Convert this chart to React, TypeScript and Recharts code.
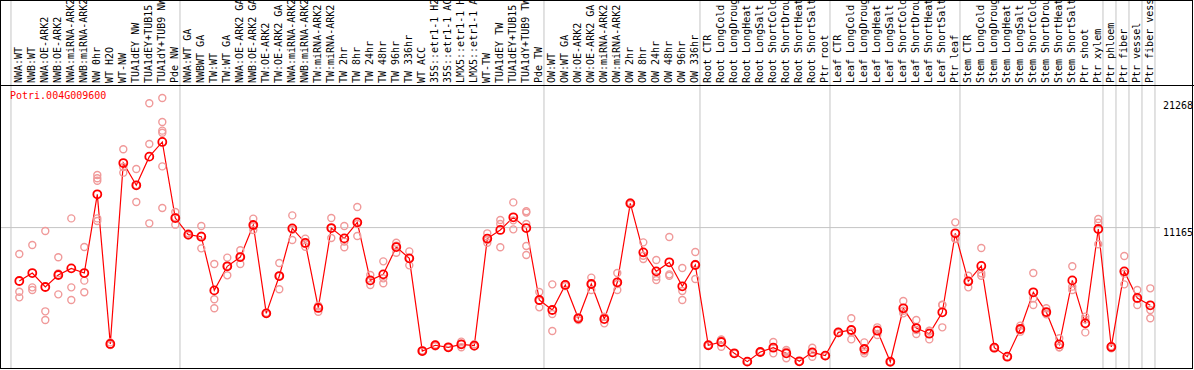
import React from "react";
import { ComposedChart, Line, Scatter, XAxis, YAxis, ReferenceLine } from "recharts";

const categories = [
  "NWA:WT", "NWB:WT", "NWA:OE-ARK2", "NWB:OE-ARK2", "NWA:miRNA-ARK2", "NWB:miRNA-ARK2",
  "NW 0hr", "WT H2O", "WT-NW", "TUA1dEY NW", "TUA1dEY+TUB15 NW", "TUA1dY+TUB9 NW", "Pde NW",
  "NWA:WT GA", "NWBWT GA", "TW:WT", "TW:WT GA", "NWA:OE-ARK2 GA", "NWB:OE-ARK2 GA",
  "TW:OE-ARK2", "TW:OE-ARK2 GA", "NWA:miRNA-ARK2", "NWB:miRNA-ARK2", "TW:miRNA-ARK2",
  "TW:miRNA-ARK2", "TW 2hr", "TW 8hr", "TW 24hr", "TW 48hr", "TW 96hr", "TW 336hr",
  "WT ACC", "35S::etr1-1 H2O", "35S::etr1-1 ACC", "LMX5::etr1-1 H2O", "LMX5::etr1-1 ACC",
  "WT-TW", "TUA1dEY TW", "TUA1dEY+TUB15 TW", "TUA1dY+TUB9 TW", "Pde TW",
  "OW:WT", "OW:WT GA", "OW:OE-ARK2", "OW:OE-ARK2 GA", "OW:miRNA-ARK2", "OW:miRNA-ARK2",
  "OW 2hr", "OW 8hr", "OW 24hr", "OW 48hr", "OW 96hr", "OW 336hr",
  "Root CTR", "Root LongCold", "Root LongDrought", "Root LongHeat", "Root LongSalt",
  "Root ShortCold", "Root ShortDrought", "Root ShortHeat", "Root ShortSalt", "Ptr root",
  "Leaf CTR", "Leaf LongCold", "Leaf LongDrought", "Leaf LongHeat", "Leaf LongSalt",
  "Leaf ShortCold", "Leaf ShortDrought", "Leaf ShortHeat", "Leaf ShortSalt", "Ptr leaf",
  "Stem CTR", "Stem LongCold", "Stem LongDrought", "Stem LongHeat", "Stem LongSalt",
  "Stem ShortCold", "Stem ShortDrought", "Stem ShortHeat", "Stem ShortSalt", "Ptr shoot",
  "Ptr xylem", "Ptr phloem", "Ptr fiber", "Ptr vessel", "Ptr fiber vessel",
];

const means = [
  6730, 7390, 6230, 7230, 7780, 7390, 13930, 1500, 16530, 14680, 17060, 18280, 11960,
  10580, 10410, 5950, 7950, 8720, 11380, 4040, 7140, 11100, 9890, 4490, 11130, 10270,
  11600, 6780, 7280, 9550, 8610, 910, 1390, 1220, 1470, 1360, 10250, 10970, 12020, 11130,
  5150, 4320, 6400, 3630, 6480, 3570, 6620, 13180, 9110, 7530, 8280, 6290, 8060,
  1390, 1660, 720, 30, 830, 1190, 720, 60, 800, 530,
  2460, 2660, 1080, 2600, 20, 4460, 2820, 2350, 4130, 10690,
  6700, 7980, 1190, 440, 2740, 5790, 4150, 1470, 6780, 3210,
  11050, 1250, 7530, 5320, 4710,
];

const replicates = [
  [8970, 5840, 5370], [9720, 6200, 5980], [10880, 4210, 3490], [8700, 7360, 5620],
  [11930, 6200, 5150], [9550, 6760, 5790], [15530, 15260, 15060, 11930, 11710],
  [1630, 1400, 1450], [17670, 16200, 15730], [16030, 14700, 13290], [21490, 18110, 11520],
  [21930, 19940, 19220, 19050, 16250, 12790], [12460, 12020, 11410], [10690, 10500, 10550],
  [11300, 10490, 9440], [8140, 5210, 4460], [8670, 7980, 7200], [9280, 8750, 8140],
  [11910, 11270, 10970], [4000, 4100, 4030], [8220, 7170, 6040], [12180, 10990, 10140],
  [10250, 9830, 9580], [4180, 4600, 4680], [11960, 11130, 10300], [11300, 10000, 9530],
  [12880, 11460, 10470], [7230, 6730, 6400], [8360, 6950, 6540], [9910, 9660, 9080],
  [9190, 8610, 8030], [880, 950, 910], [1300, 1420, 1440], [1230, 1180, 1250],
  [1690, 1500, 1220], [1470, 1300, 1300], [10690, 10130, 9910], [11800, 11460, 9530],
  [13260, 11770, 11020], [12520, 12410, 11460, 9640, 8890], [5820, 5090, 4540],
  [6450, 3990, 2580], [6300, 6450, 6440], [3490, 3700, 3690], [7010, 6450, 5980],
  [3210, 3750, 3750], [7390, 6480, 5980], [13100, 13250, 13190], [9940, 8830, 8560],
  [8470, 7090, 6810], [10380, 7280, 7170], [7810, 5900, 5150], [9140, 8140, 6900],
  [1350, 1400, 1410], [1880, 1830, 1270], [700, 740, 720], [20, 40, 30], [800, 850, 840],
  [1660, 1190, 720], [1000, 860, 310], [40, 60, 70], [1190, 780, 440], [500, 540, 540],
  [2400, 2500, 2490], [3630, 2460, 1880], [1630, 890, 720], [2880, 2690, 2240],
  [10, 30, 20], [5070, 4260, 4040], [3490, 2660, 2330], [2600, 2580, 1880],
  [4740, 4760, 2880], [11600, 10240, 10220], [7170, 6730, 6200], [9470, 7370, 7170],
  [1150, 1230, 1190], [420, 460, 450], [3020, 2690, 2520], [7390, 5290, 4740],
  [4460, 3960, 4040], [1970, 1220, 1220], [7950, 6260, 5980], [3770, 3540, 2460],
  [11880, 11570, 9780], [1140, 1300, 1300], [8810, 7340, 6450], [5980, 5230, 4740],
  [6120, 4320, 3630],
];

const yTicks = [0, 11165, 21268];
// group separators sit just after these category indices
const groupEnds = [-1, 12, 40, 52, 62, 72, 83, 84, 85, 86, 87];

const FONT = "'DejaVu Sans Mono', monospace";
const Y_MIN = -498;
const Y_MAX = 22929;
const Y_TOP = 30074; // value at the very top of the picture (y=0)

const meanData = means.map((m, i) => ({ x: i, mean: m }));
const repData = replicates.flatMap((reps, i) => reps.map((v) => ({ x: i, rep: v })));
const xTicks = categories.map((_, i) => i);

function CategoryTick(props: any) {
  const { x, payload } = props;
  return (
    <text
      transform={`translate(${x + 3},83) rotate(-90)`}
      fontSize={10}
      fontFamily={FONT}
      fill="#000"
      textAnchor="start"
    >
      {categories[payload.value]}
    </text>
  );
}

function ValueTick(props: any) {
  const { y, payload } = props;
  const dy = payload.value === 11165 ? 8 : 3.5;
  return (
    <text x={1163} y={y + dy} fontSize={10} fontFamily={FONT} fill="#000">
      {payload.value}
    </text>
  );
}

function RepDot(props: any) {
  return (
    <circle cx={props.cx} cy={props.cy} r={3.5} fill="none" stroke="#f09a9a" strokeWidth={1.4} />
  );
}

export default function App() {
  return (
    <div
      style={{
        position: "absolute",
        left: 0,
        top: 0,
        width: 1194,
        height: 370,
        background: "#fff",
        overflow: "hidden",
      }}
    >
      <ComposedChart
        width={1194}
        height={370}
        data={meanData}
        margin={{ top: 0, right: 0, bottom: 2, left: 12.8 }}
      >
        <XAxis
          dataKey="x"
          type="number"
          orientation="top"
          height={86}
          domain={[-0.5, 87.5]}
          ticks={xTicks}
          interval={0}
          tick={<CategoryTick />}
          tickLine={false}
          axisLine={false}
          allowDataOverflow
        />
        <YAxis
          orientation="right"
          width={37.2}
          domain={[Y_MIN, Y_MAX]}
          ticks={yTicks}
          tick={<ValueTick />}
          tickLine={false}
          axisLine={false}
          allowDataOverflow
        />
        {groupEnds.map((g) => (
          <ReferenceLine
            key={`g${g}`}
            segment={[
              { x: g + 0.36, y: Y_MIN },
              { x: g + 0.36, y: Y_TOP },
            ]}
            stroke="#c4c4c4"
            strokeWidth={1}
            ifOverflow="visible"
          />
        ))}
        <ReferenceLine
          segment={[
            { x: -1.41, y: 11165 },
            { x: 87.75, y: 11165 },
          ]}
          stroke="#c4c4c4"
          strokeWidth={1}
          ifOverflow="visible"
        />
        <Scatter data={repData} dataKey="rep" shape={<RepDot />} isAnimationActive={false} />
        <Line
          dataKey="mean"
          type="linear"
          stroke="#ff0000"
          strokeWidth={1.2}
          dot={(p: any) => (
            <circle
              key={`m${p.index}`}
              cx={p.cx}
              cy={p.cy}
              r={4}
              fill="none"
              stroke="#ff0000"
              strokeWidth={1.8}
            />
          )}
          activeDot={false}
          isAnimationActive={false}
        />
      </ComposedChart>
      <div
        style={{
          position: "absolute",
          left: 0,
          top: 0,
          width: 1193,
          height: 369,
          border: "1px solid #000",
          boxSizing: "border-box",
          pointerEvents: "none",
        }}
      />
      <div
        style={{
          position: "absolute",
          left: 0,
          top: 85,
          width: 1194,
          height: 1,
          background: "#000",
        }}
      />
      <div
        style={{
          position: "absolute",
          left: 10,
          top: 91,
          fontSize: 10,
          lineHeight: "10px",
          fontFamily: FONT,
          color: "#ff0000",
        }}
      >
        Potri.004G009600
      </div>
    </div>
  );
}
